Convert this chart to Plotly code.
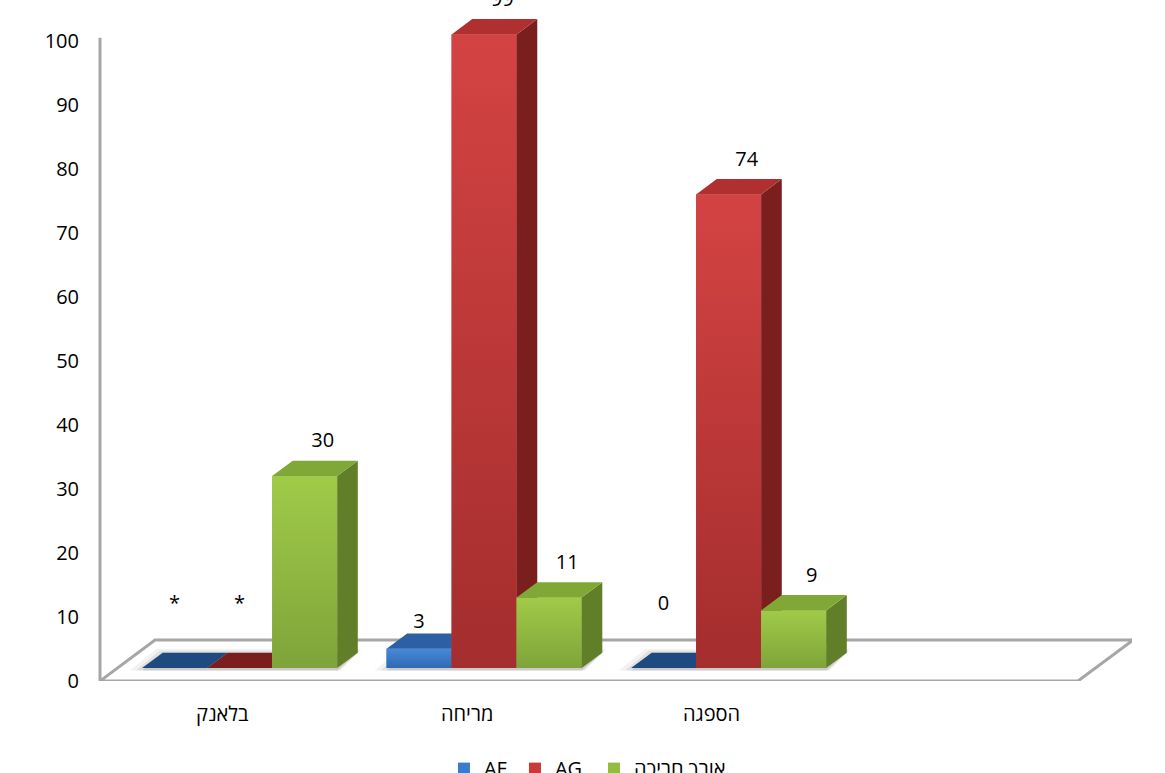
import plotly.graph_objects as go

# ---------------- data ----------------
categories = ["בלאנק", "מריחה", "הספגה"]
series_names = ["AF", "AG", "אורך חריכה"]
af_values = [0, 3, 0]
ag_values = [0, 99, 74]
burn_values = [30, 11, 9]
af_labels = ["*", "3", "0"]
ag_labels = ["*", "99", "74"]
burn_labels = ["30", "11", "9"]
y_tick_values = [0, 10, 20, 30, 40, 50, 60, 70, 80, 90, 100]
n_slots = 4  # Excel reserves an empty fourth category slot

# ---------------- styling / geometry ----------------
FONT = "Open Sans, DejaVu Sans, sans-serif"
front_colors = ["#3b7bcc", "#c93939", "#92bd42"]
grad_colors = [("#3069b4", "#468ad8"), ("#a42d2d", "#d44343"), ("#7ea43a", "#a0cb48")]
top_colors = ["#2c5fa3", "#b03030", "#80a836"]
side_colors = ["#1f4a80", "#7a1e1e", "#617f29"]
legend_ids = ["legend", "legend2", "legend3"]
legend_x = [0.3333, 0.4021, 0.4787]

Y_MAX = 681 / 6.40           # plot spans 681 px at 6.4 px per unit
DX, DY = 0.225, 6.4          # floor depth (x units, y units)
F0, F1 = 0.317, 0.692        # bar front / back depth fraction
W = 0.266                    # bar width in slot units
GROUP_START = 0.172          # offset of first bar in a slot
BASE = F0 * DY
ddx, ddy = (F1 - F0) * DX, (F1 - F0) * DY

series_values = [af_values, ag_values, burn_values]
series_labels = [af_labels, ag_labels, burn_labels]

fig = go.Figure()

# floor
fig.add_trace(go.Scatter(
    x=[0, n_slots, n_slots + DX, DX, 0],
    y=[0, 0, DY, DY, 0],
    mode="lines", fill="toself", fillcolor="white",
    line=dict(color="#a6a6a6", width=3),
    showlegend=False, hoverinfo="skip", zorder=0))

# soft shadows around each group footprint
for pad, alpha in [(0.05, 0.05), (0.025, 0.07), (0.0, 0.09)]:
    sx, sy = [], []
    for i in range(len(categories)):
        gx0 = i + GROUP_START - pad
        gx1 = i + GROUP_START + 3 * W + pad * 0.3
        sx += [gx0, gx1, gx1 + ddx, gx0 + ddx + pad * 0.5, gx0, None]
        sy += [BASE - 0.4, BASE - 0.4, BASE + ddy + pad * 12, BASE + ddy + pad * 12, BASE - 0.4, None]
    fig.add_trace(go.Scatter(x=sx, y=sy, mode="none", fill="toself",
                             fillcolor=f"rgba(0,0,0,{alpha})",
                             showlegend=False, hoverinfo="skip", zorder=0))

lab_x, lab_y, lab_t = [], [], []
for s, (name, vals, labs) in enumerate(zip(series_names, series_values, series_labels)):
    xs, bases = [], []
    sx, sy = [], []
    top_traces = []
    for i, v in enumerate(vals):
        x0 = i + GROUP_START + s * W
        x1 = x0 + W
        y0, y1 = BASE, BASE + v
        xs.append(x0 + W / 2)
        bases.append(y0)
        top_traces.append(([x0, x1, x1 + ddx, x0 + ddx, x0],
                           [y1, y1, y1 + ddy, y1 + ddy, y1],
                           top_colors[s] if v > 0 else side_colors[s]))
        if v > 0:
            sx += [x1, x1 + ddx, x1 + ddx, x1, x1, None]
            sy += [y0, y0 + ddy, y1 + ddy, y1, y0, None]
        if v >= 5:
            lab_x.append(x0 + W / 2 + 0.074)
            lab_y.append(v + 7.3)
        elif v > 0:
            lab_x.append(x0 + W / 2)
            lab_y.append(v + 6.0)
        else:
            lab_x.append(x0 + W / 2)
            lab_y.append(11.8)
        lab_t.append(labs[i])
    fig.add_trace(go.Bar(
        x=xs, y=vals, base=bases, width=W, name=name,
        marker=dict(color=front_colors[s], line=dict(width=0)),
        showlegend=True, legend=legend_ids[s], hoverinfo="skip", zorder=s + 1))
    # shaded front faces, one per bar so each gets its own gradient
    for i, v in enumerate(vals):
        if v <= 0:
            continue
        x0 = i + GROUP_START + s * W
        fig.add_trace(go.Scatter(
            x=[x0, x0 + W, x0 + W, x0, x0], y=[BASE, BASE, BASE + v, BASE + v, BASE],
            mode="none", fill="toself",
            fillgradient=dict(type="vertical",
                              colorscale=[[0, grad_colors[s][0]], [1, grad_colors[s][1]]]),
            showlegend=False, hoverinfo="skip", zorder=s + 1))
    fig.add_trace(go.Scatter(x=sx, y=sy, mode="none", fill="toself",
                             fillcolor=side_colors[s], showlegend=False,
                             hoverinfo="skip", zorder=s + 1))
    for px, py, col in top_traces:
        fig.add_trace(go.Scatter(x=px, y=py, mode="none", fill="toself",
                                 fillcolor=col, showlegend=False,
                                 hoverinfo="skip", zorder=s + 1))

fig.add_trace(go.Scatter(x=lab_x, y=lab_y, text=lab_t, mode="text",
                         textposition="middle center",
                         textfont=dict(family=FONT, size=20, color="black"),
                         showlegend=False, hoverinfo="skip", cliponaxis=False,
                         zorder=10))

for i, c in enumerate(categories):
    fig.add_annotation(x=i + 0.5, y=0, xref="x", yref="y", text=c,
                       showarrow=False, yshift=-32, yanchor="middle",
                       font=dict(family=FONT, size=20, color="black"))

# value axis line (stops at the top of the wall like the reference)
fig.add_shape(type="line", xref="paper", yref="paper", x0=0, x1=0,
              y0=0, y1=100.5 / Y_MAX, line=dict(color="#a6a6a6", width=3), layer="below")

legend_style = dict(orientation="h", xanchor="left", y=-0.10, yanchor="top",
                    font=dict(family=FONT, size=20, color="black"),
                    itemclick=False, bgcolor="rgba(0,0,0,0)")

fig.update_layout(
    width=1165, height=773,
    margin=dict(l=100, r=33, t=0, b=92, autoexpand=False),
    paper_bgcolor="white", plot_bgcolor="white",
    barmode="overlay",
    showlegend=True,
    legend=dict(x=legend_x[0], **legend_style),
    legend2=dict(x=legend_x[1], **legend_style),
    legend3=dict(x=legend_x[2], **legend_style),
    xaxis=dict(range=[0, n_slots * 1032 / 978], visible=False, fixedrange=True),
    yaxis=dict(range=[0, Y_MAX], tickvals=y_tick_values, showgrid=False, zeroline=False,
               showline=False,
               ticks="outside", ticklen=16, tickcolor="rgba(0,0,0,0)",
               tickfont=dict(family=FONT, size=20, color="black"), fixedrange=True),
)

fig.write_html("out.html")
